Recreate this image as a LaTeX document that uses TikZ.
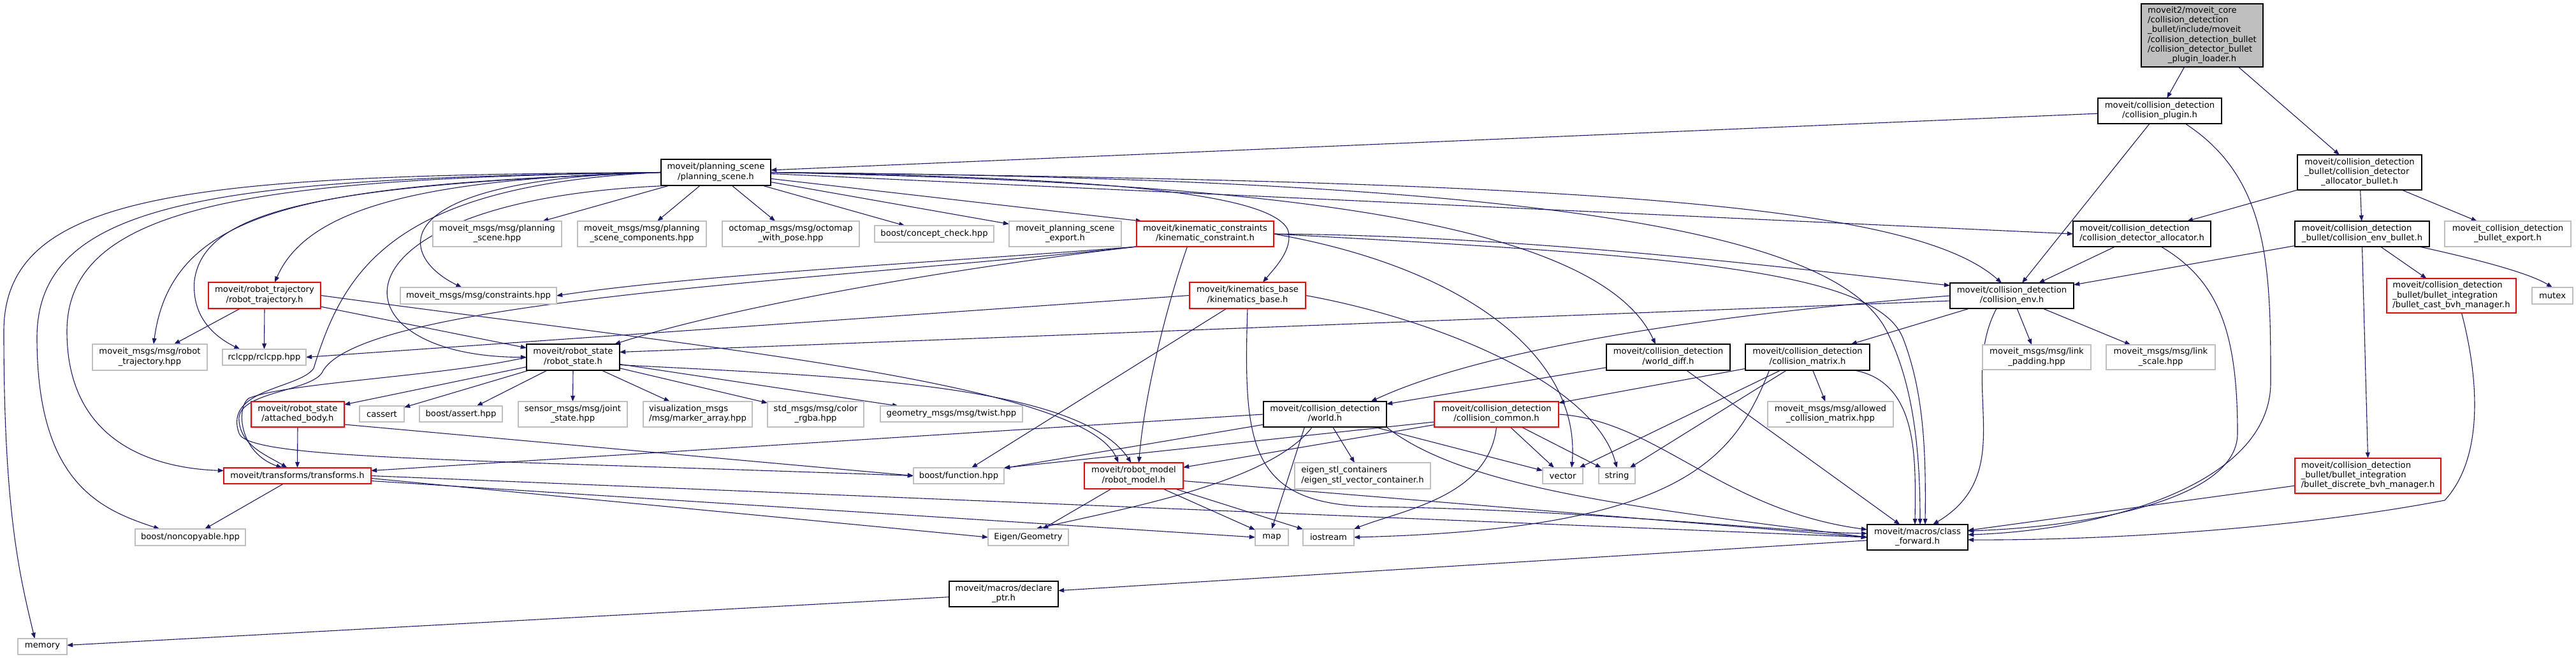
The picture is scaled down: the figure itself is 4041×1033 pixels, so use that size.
\documentclass[tikz,border=0pt]{standalone}
\usepackage{fontspec}
\setmainfont{DejaVu Sans}
\usetikzlibrary{arrows.meta}
\definecolor{eblue}{HTML}{191970}
\definecolor{gbord}{HTML}{BFBFBF}
\definecolor{rbord}{HTML}{FF0000}
\definecolor{rootfill}{HTML}{BFBFBF}
\newcommand\nfont{\fontsize{6.6}{7.6}\selectfont}
\newcommand\twol[2]{\begin{tabular}{@{}l@{}}#1\\\multicolumn{1}{@{}c@{}}{#2}\end{tabular}}
\newcommand\mkbox[7]{\node[#2, minimum width={(#5-#3)*0.5pt}, minimum height={(#6-#4)*0.5pt}] (#1) at ({(#3+#5)/2},{(#4+#6)/2}) {#7};}
\pgfdeclarelayer{bglayer}
\pgfdeclarelayer{edgelayer}
\pgfsetlayers{bglayer,edgelayer,main}
\tikzset{
 bx/.style={rectangle, inner sep=0pt, outer sep=0pt, fill=white, line width=0.7pt, font=\nfont, align=center},
 nblk/.style={bx, draw=black},
 ngry/.style={bx, draw=gbord},
 nred/.style={bx, draw=rbord},
 nroot/.style={bx, draw=black, fill=rootfill},
 edg/.style={draw=eblue, line width=0.55pt, -{Triangle[length=4.6pt,width=3.4pt]}},
}
\begin{document}
\begin{tikzpicture}[x=0.5pt,y=-0.5pt]
\useasboundingbox (0,0) rectangle (4041,1033);
\begin{pgfonlayer}{bglayer}
\fill[white] (0,0) rectangle (4041,1033);
\end{pgfonlayer}
% nodes
\mkbox{R}{nroot}{3359}{6}{3550}{105}{\twol{moveit2/moveit\_core\\/collision\_detection\\\_bullet/include/moveit\\/collision\_detection\_bullet\\/collision\_detector\_bullet}{\_plugin\_loader.h}}
\mkbox{CP}{nblk}{3291}{154}{3485}{194}{\twol{moveit/collision\_detection}{/collision\_plugin.h}}
\mkbox{AB}{nblk}{3604}{243}{3799}{298}{\twol{moveit/collision\_detection\\\_bullet/collision\_detector}{\_allocator\_bullet.h}}
\mkbox{PS}{nblk}{1037}{250}{1209}{291}{\twol{moveit/planning\_scene}{/planning\_scene.h}}
\mkbox{DA}{nblk}{3252}{347}{3468}{387}{\twol{moveit/collision\_detection}{/collision\_detector\_allocator.h}}
\mkbox{EB}{nblk}{3600}{347}{3811}{387}{\twol{moveit/collision\_detection}{\_bullet/collision\_env\_bullet.h}}
\mkbox{BE}{ngry}{3835}{347}{4033}{387}{\twol{moveit\_collision\_detection}{\_bullet\_export.h}}
\mkbox{MPS}{ngry}{679}{347}{881}{387}{\twol{moveit\_msgs/msg/planning}{\_scene.hpp}}
\mkbox{MPSC}{ngry}{906}{347}{1108}{387}{\twol{moveit\_msgs/msg/planning}{\_scene\_components.hpp}}
\mkbox{OCT}{ngry}{1133}{347}{1348}{387}{\twol{octomap\_msgs/msg/octomap}{\_with\_pose.hpp}}
\mkbox{CC}{ngry}{1372}{354}{1559}{380}{boost/concept\_check.hpp}
\mkbox{PSE}{ngry}{1583}{347}{1759}{387}{\twol{moveit\_planning\_scene}{\_export.h}}
\mkbox{KC}{nred}{1783}{347}{1998}{387}{\twol{moveit/kinematic\_constraints}{/kinematic\_constraint.h}}
\mkbox{RT}{nred}{327}{443}{503}{484}{\twol{moveit/robot\_trajectory}{/robot\_trajectory.h}}
\mkbox{CON}{ngry}{628}{451}{873}{477}{moveit\_msgs/msg/constraints.hpp}
\mkbox{KB}{nred}{1866}{443}{2048}{484}{\twol{moveit/kinematics\_base}{/kinematics\_base.h}}
\mkbox{CE}{nblk}{3059}{444}{3253}{484}{\twol{moveit/collision\_detection}{/collision\_env.h}}
\mkbox{BC}{nred}{3744}{437}{3947}{491}{\twol{moveit/collision\_detection\\\_bullet/bullet\_integration}{/bullet\_cast\_bvh\_manager.h}}
\mkbox{MUT}{ngry}{3972}{451}{4036}{477}{mutex}
\mkbox{RTH}{ngry}{145}{540}{325}{581}{\twol{moveit\_msgs/msg/robot}{\_trajectory.hpp}}
\mkbox{RCL}{ngry}{349}{548}{480}{573}{rclcpp/rclcpp.hpp}
\mkbox{RS}{nblk}{826}{540}{972}{581}{\twol{moveit/robot\_state}{/robot\_state.h}}
\mkbox{WD}{nblk}{2520}{540}{2714}{581}{\twol{moveit/collision\_detection}{/world\_diff.h}}
\mkbox{CM}{nblk}{2738}{540}{2933}{581}{\twol{moveit/collision\_detection}{/collision\_matrix.h}}
\mkbox{LP}{ngry}{3110}{541}{3280}{580}{\twol{moveit\_msgs/msg/link}{\_padding.hpp}}
\mkbox{LS}{ngry}{3304}{541}{3475}{580}{\twol{moveit\_msgs/msg/link}{\_scale.hpp}}
\mkbox{AtB}{nred}{394}{630}{540}{670}{\twol{moveit/robot\_state}{/attached\_body.h}}
\mkbox{CAS}{ngry}{564}{637}{634}{662}{cassert}
\mkbox{BA}{ngry}{658}{637}{788}{662}{boost/assert.hpp}
\mkbox{JS}{ngry}{813}{630}{984}{670}{\twol{sensor\_msgs/msg/joint}{\_state.hpp}}
\mkbox{MA}{ngry}{1009}{630}{1180}{670}{\twol{visualization\_msgs}{/msg/marker\_array.hpp}}
\mkbox{CR}{ngry}{1204}{630}{1355}{670}{\twol{std\_msgs/msg/color}{\_rgba.hpp}}
\mkbox{TW}{ngry}{1381}{637}{1604}{662}{geometry\_msgs/msg/twist.hpp}
\mkbox{W}{nblk}{1982}{630}{2175}{670}{\twol{moveit/collision\_detection}{/world.h}}
\mkbox{CCom}{nred}{2250}{630}{2445}{670}{\twol{moveit/collision\_detection}{/collision\_common.h}}
\mkbox{ACM}{ngry}{2773}{630}{2970}{670}{\twol{moveit\_msgs/msg/allowed}{\_collision\_matrix.hpp}}
\mkbox{BD}{nred}{3600}{719}{3829}{774}{\twol{moveit/collision\_detection\\\_bullet/bullet\_integration}{/bullet\_discrete\_bvh\_manager.h}}
\mkbox{TF}{nred}{351}{734}{582}{759}{moveit/transforms/transforms.h}
\mkbox{BF}{ngry}{1433}{734}{1575}{759}{boost/function.hpp}
\mkbox{RM}{nred}{1701}{726}{1856}{767}{\twol{moveit/robot\_model}{/robot\_model.h}}
\mkbox{ESC}{ngry}{2031}{726}{2244}{767}{\twol{eigen\_stl\_containers}{/eigen\_stl\_vector\_container.h}}
\mkbox{VEC}{ngry}{2420}{734}{2483}{759}{vector}
\mkbox{STR}{ngry}{2508}{734}{2565}{759}{string}
\mkbox{NC}{ngry}{212}{830}{385}{856}{boost/noncopyable.hpp}
\mkbox{EG}{ngry}{1550}{830}{1676}{856}{Eigen/Geometry}
\mkbox{MAP}{ngry}{1969}{830}{2021}{856}{map}
\mkbox{IOS}{ngry}{2044}{830}{2124}{856}{iostream}
\mkbox{CF}{nblk}{2929}{823}{3087}{863}{\twol{moveit/macros/class}{\_forward.h}}
\mkbox{DP}{nblk}{1489}{912}{1660}{952}{\twol{moveit/macros/declare}{\_ptr.h}}
\mkbox{MEM}{ngry}{28}{1002}{105}{1027}{memory}
% edges
\begin{pgfonlayer}{edgelayer}
\draw[edg] (R) -- (CP);
\draw[edg] (R) -- (AB);
\draw[edg] (CP) -- (PS);
\draw[edg] (CP) -- (CE);
\draw[edg] ([xshift=20pt]CP.south) .. controls (3560,280) and (3562,420) .. (3562,600) .. controls (3562,760) and (3300,832) .. ([yshift=2pt]CF.east);
\draw[edg] (AB) -- (DA);
\draw[edg] (AB) -- (EB);
\draw[edg] (AB) -- (BE);
\draw[edg] (DA) -- (CE);
\draw[edg] ([xshift=15pt]DA.south) .. controls (3480,440) and (3510,520) .. (3510,680) .. controls (3510,790) and (3250,828) .. ([yshift=5pt]CF.east);
\draw[edg] (EB) -- (CE);
\draw[edg] (EB) -- (BC);
\draw[edg] (EB.south) -- (BD.north);
\draw[edg] ([xshift=-8pt]EB.south east) .. controls (3900,410) and (3970,430) .. (MUT.north);
\draw[edg] ([xshift=8pt]BC.south) .. controls (3890,600) and (3895,720) .. (3835,785) .. controls (3600,830) and (3300,848) .. ([yshift=-2pt]CF.east);
\draw[edg] (BD) -- (CF);
% planning scene
\draw[edg] (PS) -- (MPS);
\draw[edg] (PS) -- (MPSC);
\draw[edg] (PS) -- (OCT);
\draw[edg] (PS) -- (CC);
\draw[edg] (PS) -- (PSE);
\draw[edg] (PS) -- ([xshift=4pt]KC.north west);
\draw[edg] ([yshift=-1pt]PS.east) -- (DA.west);
\draw[edg] (PS.east) .. controls (2500,285) and (3000,320) .. ([xshift=-8pt]CE.north);
\draw[edg] (PS.east) .. controls (2400,280) and (2880,360) .. (2960,520) .. controls (3000,600) and (3012,700) .. ([xshift=2pt]CF.north);
\draw[edg] (PS.east) .. controls (1900,285) and (2500,330) .. ([xshift=-10pt]WD.north);
\draw[edg] (PS.east) .. controls (1700,278) and (1990,300) .. (2020,360) .. controls (2030,390) and (2000,420) .. ([xshift=12pt]KB.north);
\draw[edg] ([xshift=10pt]PS.south west) .. controls (500,310) and (510,560) .. (RS.west);
\draw[edg] (PS.west) .. controls (600,280) and (620,400) .. ([xshift=-13pt]CON.north);
\draw[edg] (PS.west) .. controls (650,280) and (480,330) .. ([xshift=8pt]RT.north);
\draw[edg] (PS.west) .. controls (500,290) and (320,330) .. (305,440) .. controls (300,500) and (340,530) .. ([xshift=-19pt]RCL.north);
\draw[edg] (PS.west) .. controls (500,290) and (270,320) .. ([xshift=3pt]RTH.north);
\draw[edg] (PS.west) .. controls (400,280) and (105,320) .. (105,520) .. controls (105,700) and (250,735) .. ([yshift=4pt]TF.west);
\draw[edg] (PS.west) .. controls (350,280) and (58,310) .. (58,530) .. controls (58,760) and (160,800) .. ([xshift=-24pt]NC.north);
\draw[edg] (PS.west) .. controls (300,275) and (6,300) .. (6,520) .. controls (6,800) and (30,900) .. ([xshift=-6pt]MEM.north);
\draw[edg] (PS.west) .. controls (620,290) and (540,420) .. (492,578) .. controls (470,610) and (350,610) .. (375,680) .. controls (390,720) and (700,720) .. (BF.west);
% robot trajectory
\draw[edg] (RT) -- (RTH);
\draw[edg] (RT.south) -- (RCL.north);
\draw[edg] (RT) -- (RS);
\draw[edg] (RT.east) .. controls (1100,545) and (1700,600) .. ([xshift=-12pt]RM.north);
% kinematic constraint
\draw[edg] (KC.south west) .. controls (1500,410) and (1100,430) .. (CON.east);
\draw[edg] (KC.south west) .. controls (1500,420) and (1150,480) .. ([xshift=-4pt]RS.north east);
\draw[edg] (KC.south west) .. controls (1300,440) and (560,470) .. (505,585) .. controls (485,615) and (370,615) .. (375,660) .. controls (378,700) and (420,715) .. ([xshift=-8pt]TF.north);
\draw[edg] ([xshift=-14pt]KC.south) .. controls (1830,480) and (1795,620) .. ([xshift=4pt]RM.north);
\draw[edg] (KC.east) .. controls (2400,370) and (2800,420) .. ([yshift=8pt]CE.west);
\draw[edg] (KC.east) .. controls (2600,400) and (2940,420) .. (2985,530) .. controls (3020,620) and (3021,720) .. ([xshift=6pt]CF.north);
\draw[edg] (KC.east) .. controls (2300,420) and (2480,560) .. ([xshift=7pt]VEC.north);
% kinematics base
\draw[edg] (KB.west) -- (RCL.east);
\draw[edg] (KB) -- (BF);
\draw[edg] (KB.east) .. controls (2250,500) and (2500,600) .. (STR.north);
\draw[edg] (KB.south) .. controls (1950,700) and (1960,790) .. (2150,795) .. controls (2500,800) and (2800,835) .. ([yshift=3pt]CF.west);
% robot state
\draw[edg] (RS) -- (AtB);
\draw[edg] (RS) -- (CAS);
\draw[edg] (RS) -- (BA);
\draw[edg] (RS.south) -- (JS.north);
\draw[edg] (RS) -- (MA);
\draw[edg] (RS) -- (CR);
\draw[edg] (RS) -- (TW);
\draw[edg] ([yshift=-6pt]RS.east) .. controls (1300,590) and (1690,600) .. ([xshift=-2pt]RM.north);
\draw[edg] (RS.west) .. controls (700,590) and (450,600) .. (390,625) .. controls (370,640) and (375,710) .. ([xshift=-12pt]TF.north);
% attached body
\draw[edg] (AtB.south) -- (TF.north);
\draw[edg] ([yshift=-8pt]AtB.east) -- (BF.west);
% world
\draw[edg] (W.west) -- ([yshift=4pt]TF.east);
\draw[edg] (W) -- (ESC);
\draw[edg] ([xshift=-16pt]W.south) -- (MAP.north);
\draw[edg] ([xshift=-10pt]W.south) .. controls (1990,760) and (1750,800) .. ([xshift=6pt]EG.north);
\draw[edg] (W) -- (VEC);
\draw[edg] (W) -- (BF);
\draw[edg] (W.south east) .. controls (2300,770) and (2600,800) .. (CF.west);
% collision common
\draw[edg] (CCom) -- (RM);
\draw[edg] ([yshift=-6pt]CCom.west) -- (BF.north east);
\draw[edg] (CCom) -- (VEC);
\draw[edg] (CCom) -- (STR);
\draw[edg] (CCom.south) .. controls (2335,780) and (2200,800) .. (IOS.north east);
\draw[edg] (CCom.east) .. controls (2600,660) and (2700,800) .. ([yshift=6pt]CF.west);
% collision matrix
\draw[edg] (CM) -- (CCom);
\draw[edg] (CM) -- (ACM);
\draw[edg] ([xshift=-12pt]CM.south east) .. controls (3010,600) and (3005,720) .. ([xshift=-2pt]CF.north);
\draw[edg] (CM) -- (VEC);
\draw[edg] (CM) -- (STR);
\draw[edg] ([xshift=-30pt]CM.south) .. controls (2720,720) and (2640,830) .. (IOS.east);
% world diff
\draw[edg] (WD) -- (W);
\draw[edg] (WD) -- (CF);
% collision env
\draw[edg] (CE) -- (CM);
\draw[edg] (CE) -- (LP);
\draw[edg] (CE) -- (LS);
\draw[edg] (CE.west) .. controls (2600,500) and (2300,560) .. ([xshift=36pt]W.north);
\draw[edg] ([yshift=-4pt]CE.west) -- ([yshift=4pt]RS.east);
\draw[edg] ([xshift=-12pt]CE.south) .. controls (3070,600) and (3170,740) .. ([xshift=12pt]CF.north);
% transforms
\draw[edg] (TF) -- (NC);
\draw[edg] ([yshift=-2pt]TF.east) -- (EG.west);
\draw[edg] ([yshift=-4pt]TF.east) -- (MAP.west);
\draw[edg] (TF.east) -- (CF.west);
% robot model
\draw[edg] (RM) -- (EG);
\draw[edg] (RM) -- (IOS);
\draw[edg] (RM) -- (MAP);
\draw[edg] ([yshift=-4pt]RM.east) -- (CF.west);
% class forward
\draw[edg] (CF) -- (DP);
\draw[edg] (DP) -- (MEM);
\end{pgfonlayer}
\end{tikzpicture}
\end{document}
